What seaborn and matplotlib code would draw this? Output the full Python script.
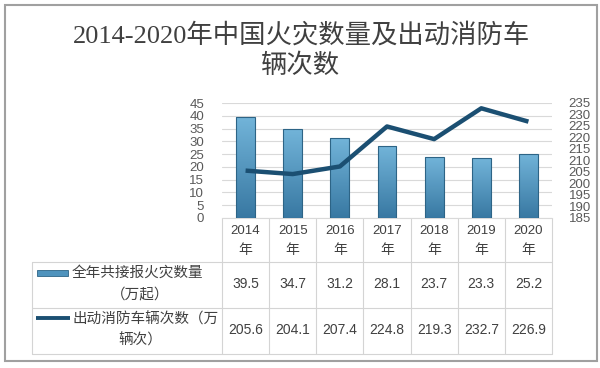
import numpy as np
import pandas as pd
import matplotlib
matplotlib.use("Agg")
import matplotlib.pyplot as plt
import matplotlib.transforms as mtransforms
from matplotlib.patches import Rectangle
from matplotlib.colors import LinearSegmentedColormap
import seaborn as sns

# ---------------- data ----------------
years = ["2014", "2015", "2016", "2017", "2018", "2019", "2020"]
fires = [39.5, 34.7, 31.2, 28.1, 23.7, 23.3, 25.2]           # 万起
trucks = [205.6, 204.1, 207.4, 224.8, 219.3, 232.7, 226.9]   # 万辆次
left_ticks = [0, 5, 10, 15, 20, 25, 30, 35, 40, 45]
right_ticks = [185, 190, 195, 200, 205, 210, 215, 220, 225, 230, 235]
title_line1 = "2014-2020年中国火灾数量及出动消防车"
title_line2 = "辆次数"
series1_label = ["全年共接报火灾数量", "（万起）"]
series2_label = ["出动消防车辆次数（万", "辆次）"]
year_suffix = "年"

# ---------------- style ----------------
sns.set_theme(style="white")
plt.rcParams["font.family"] = ["Liberation Sans", "Noto Sans CJK SC", "DejaVu Sans"]
CJK = ["Noto Sans CJK SC", "DejaVu Sans"]
TXT = "#404040"
TICK = "#595959"
GRID = "#d9d9d9"
LINE_C = "#1b4f72"
BAR_TOP = "#72b4d9"
BAR_BOT = "#3878a2"
BAR_EDGE = "#2d6486"

W, H = 600, 368
fig = plt.figure(figsize=(W / 100, H / 100), dpi=100)
fig.patch.set_facecolor("white")

# overlay axes in pixel coordinates (for table, border, title)
tax = fig.add_axes([0, 0, 1, 1], zorder=0)
tax.set_xlim(0, W)
tax.set_ylim(H, 0)
tax.axis("off")

# main chart axes
x0, x1, ytop, ybot = 222, 552, 103, 218
ax = fig.add_axes([x0 / W, (H - ybot) / H, (x1 - x0) / W, (ybot - ytop) / H], zorder=2)
ax.patch.set_alpha(0)

df = pd.DataFrame({"year": years, "fires": fires, "trucks": trucks})
sns.barplot(data=df, x="year", y="fires", ax=ax, color=BAR_BOT, width=0.4,
            saturation=1, edgecolor=BAR_EDGE, linewidth=0.8, zorder=3)

# gradient fill of bars
cmap = LinearSegmentedColormap.from_list("bar", [BAR_BOT, BAR_TOP])
grad = np.linspace(0, 1, 256).reshape(-1, 1)
for p in list(ax.patches):
    bx, by = p.get_x(), p.get_y()
    bw, bh = p.get_width(), p.get_height()
    im = ax.imshow(grad, cmap=cmap, extent=[bx, bx + bw, by, by + bh],
                   origin="lower", aspect="auto", zorder=3, interpolation="bicubic")
    im.set_clip_path(p)
    p.set_facecolor("none")
    p.set_zorder(4)

ax.set_xlim(-0.5, len(years) - 0.5)
ax.set_ylim(0, 45)
ax.set_yticks(left_ticks)
ax.set_xticks([])
ax.set_xlabel("")
ax.set_ylabel("")
ax.grid(axis="y", color=GRID, lw=0.8, zorder=0)
ax.set_axisbelow(True)
for s in ["top", "right", "left"]:
    ax.spines[s].set_visible(False)
ax.spines["bottom"].set_color(GRID)
ax.spines["bottom"].set_linewidth(0.8)
ax.tick_params(axis="y", length=0, pad=13, labelsize=9.5, labelcolor=TICK)

ax2 = ax.twinx()
ax2.set_zorder(3)
ax2.patch.set_alpha(0)
sns.lineplot(x=np.arange(len(years)), y=df["trucks"], ax=ax2, color=LINE_C,
             lw=3.2, zorder=5, solid_capstyle="butt")
ax2.set_ylim(185, 235)
ax2.set_yticks(right_ticks)
ax2.set_ylabel("")
ax2.set_xlim(-0.5, len(years) - 0.5)
for s in ["top", "right", "left", "bottom"]:
    ax2.spines[s].set_visible(False)
ax2.tick_params(axis="y", length=0, pad=12, labelsize=9.5, labelcolor=TICK)
ax2.grid(False)

# ---------------- data table ----------------
tl, tr = 32, 552
y_head_bot, y_row1_bot, y_tbl_bot = 262, 308, 354
lc = "#d4d4d4"
tax.plot([tl, tr], [y_head_bot, y_head_bot], color=lc, lw=0.8)
tax.plot([tl, tr], [y_row1_bot, y_row1_bot], color=lc, lw=0.8)
tax.plot([tl, tr], [y_tbl_bot, y_tbl_bot], color=lc, lw=0.8)
tax.plot([tl, tl], [y_head_bot, y_tbl_bot], color=lc, lw=0.8)
blend = mtransforms.blended_transform_factory(ax.transData, tax.transData)
for b in np.arange(len(years) + 1) - 0.5:
    tax.plot([b, b], [ybot, y_tbl_bot], color=lc, lw=0.8, transform=blend)

for i, yr in enumerate(years):
    tax.text(i, 231, yr, transform=blend, ha="center", va="center",
             fontsize=9.5, color=TXT)
    tax.text(i, 250, year_suffix, transform=blend, ha="center", va="center",
             fontsize=10, color=TXT, family=CJK)
    tax.text(i, 284, f"{fires[i]:.1f}", transform=blend, ha="center", va="center",
             fontsize=10, color=TXT)
    tax.text(i, 330, f"{trucks[i]:.1f}", transform=blend, ha="center", va="center",
             fontsize=10, color=TXT)

# row labels with legend keys
key = Rectangle((37, 270), 31, 6, facecolor="#4f93bd", edgecolor=BAR_EDGE, lw=0.6)
tax.add_patch(key)
tax.plot([36, 70], [317.5, 317.5], color=LINE_C, lw=2.8, solid_capstyle="butt")
tax.text(72, 273, series1_label[0], ha="left", va="center", fontsize=10.5, color=TXT, family=CJK)
tax.text(140, 294, series1_label[1], ha="center", va="center", fontsize=10.5, color=TXT, family=CJK)
tax.text(72, 319, series2_label[0], ha="left", va="center", fontsize=10.5, color=TXT, family=CJK)
tax.text(140, 340, series2_label[1], ha="center", va="center", fontsize=10.5, color=TXT, family=CJK)

# ---------------- title & border ----------------
TITLE_FAM = ["Liberation Serif", "Noto Sans CJK SC", "DejaVu Sans"]
tax.text(302, 35, title_line1, ha="center", va="center", fontsize=19,
         color=TXT, family=TITLE_FAM)
tax.text(300, 66, title_line2, ha="center", va="center", fontsize=19,
         color=TXT, family=TITLE_FAM)
tax.add_patch(Rectangle((5, 5), 592, 356, facecolor="none", edgecolor="#a0a0a0", lw=1.5))

fig.savefig("out.png", dpi=100)
